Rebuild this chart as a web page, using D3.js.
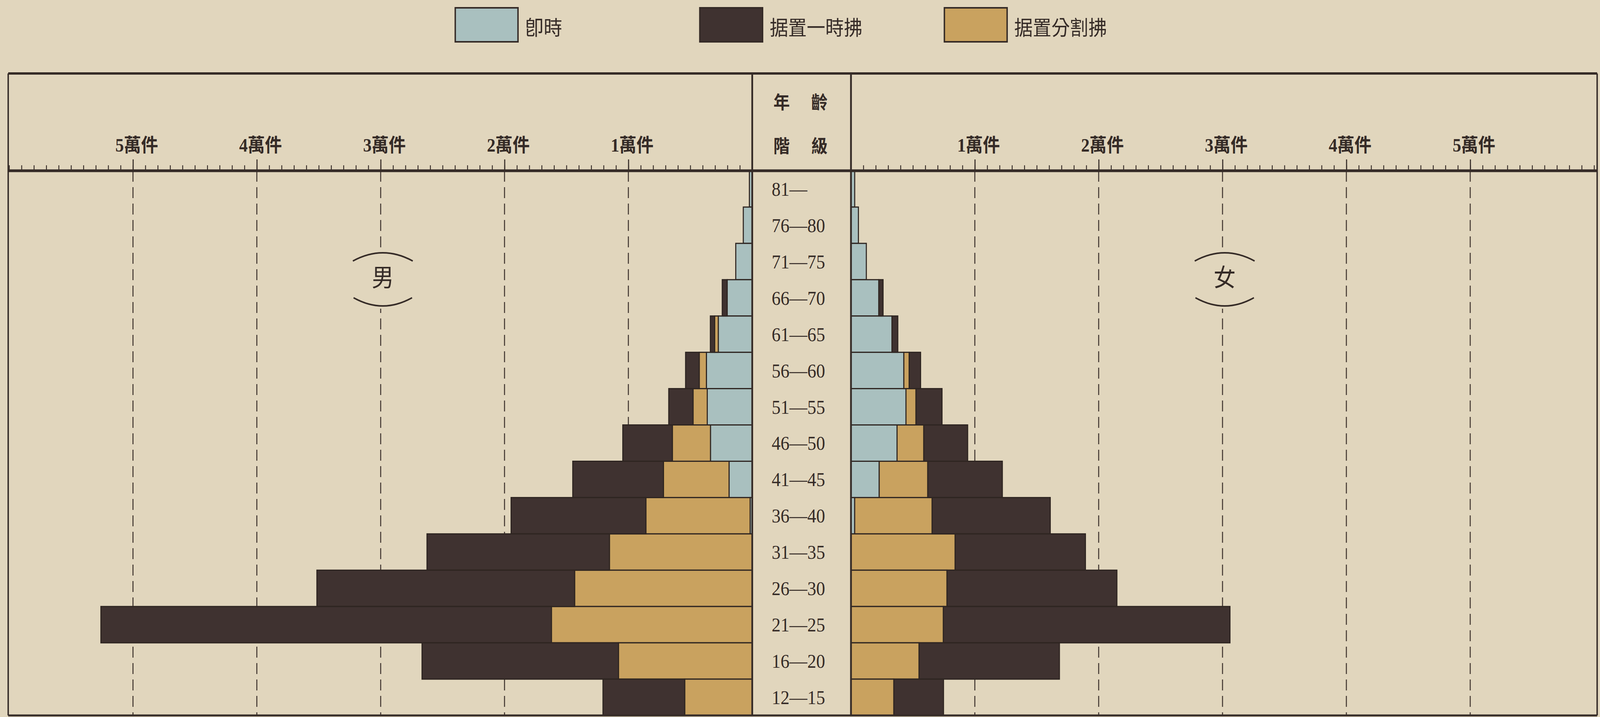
<!DOCTYPE html>
<html>
<head>
<meta charset="utf-8">
<script src="https://cdn.jsdelivr.net/npm/d3@7"></script>
<style>
  html, body { margin: 0; padding: 0; overflow: hidden; background: #e1d6bd; }
  svg { display: block; width: 100vw; height: 100vh; }
</style>
</head>
<body>
<svg id="chart"></svg>
<script>
// age classes, top to bottom
var ageGroups = ["81—", "76—80", "71—75", "66—70", "61—65", "56—60", "51—55",
                 "46—50", "41—45", "36—40", "31—35", "26—30", "21—25", "16—20", "12—15"]

// 男 (cases)
var maleSokuji   = [230, 720, 1330, 2020, 2740, 3700, 3630, 3370, 1870, 170, 0, 0, 0, 0, 0]
var maleBunkatsu = [0, 0, 0, 0, 290, 580, 1150, 3080, 5300, 8410, 11530, 14340, 16210, 10800, 5450]
var maleIchiji   = [0, 0, 0, 400, 350, 1100, 1960, 4000, 7320, 10890, 14730, 20810, 36380, 15860, 6600]

// 女 (cases)
var femaleSokuji   = [300, 600, 1240, 2250, 3310, 4270, 4440, 3720, 2280, 300, 0, 0, 0, 0, 0]
var femaleBunkatsu = [0, 0, 0, 0, 0, 430, 810, 2160, 3920, 6250, 8410, 7750, 7460, 5500, 3460]
var femaleIchiji   = [0, 0, 0, 340, 470, 920, 2100, 3540, 6020, 9540, 10520, 13720, 23140, 11330, 4010]

var legendLabels = ["卽時", "据置一時拂", "据置分割拂"]
var legendKeys = ["sokuji", "ichiji", "bunkatsu"]
var scaleTicks = [10000, 20000, 30000, 40000, 50000]
var sideLabels = ["男", "女"]

var dimensions = {
    width: 4488,
    height: 1835,
    top: 188,
    header: 437,
    bottom: 1831,
    left: 23,
    right: 4480,
    colLeft: 2110,
    colRight: 2387,
    unit: 347.4
}

var ink = "#352b27"
var paper = "#e1d6bd"
var colors = {sokuji: "#a9c0bf", bunkatsu: "#c9a25f", ichiji: "#3f3230"}
var keys = ["sokuji", "bunkatsu", "ichiji"]

// drawn in a fixed 4488 x 1835 box that is stretched to the window
var svg = d3.select("#chart")
    .attr("viewBox", `0 0 ${dimensions.width} ${dimensions.height}`)
    .attr("preserveAspectRatio", "none")

svg.append("rect")
    .attr("width", dimensions.width)
    .attr("height", dimensions.height)
    .attr("fill", paper)

var xLeft = d3.scaleLinear()
    .domain([0, 60000])
    .range([dimensions.colLeft, dimensions.colLeft - 6 * dimensions.unit])

var xRight = d3.scaleLinear()
    .domain([0, 60000])
    .range([dimensions.colRight, dimensions.colRight + 6 * dimensions.unit])

var yScale = d3.scaleBand()
    .domain(ageGroups)
    .range([dimensions.header, dimensions.bottom])
    .padding(0)

function buildRows(s, b, i) {
    return ageGroups.map((a, k) => ({age: a, sokuji: s[k], bunkatsu: b[k], ichiji: i[k]}))
}

var maleData = buildRows(maleSokuji, maleBunkatsu, maleIchiji)
var femaleData = buildRows(femaleSokuji, femaleBunkatsu, femaleIchiji)

// dashed grid lines
function drawGrid(xScale) {
    svg.append("g")
        .selectAll("line")
        .data(scaleTicks)
        .enter()
        .append("line")
        .attr("x1", d => xScale(d))
        .attr("x2", d => xScale(d))
        .attr("y1", dimensions.header)
        .attr("y2", dimensions.bottom)
        .attr("stroke", "#4a3f38")
        .attr("stroke-width", 3)
        .attr("stroke-dasharray", "28 14")
}
drawGrid(xLeft)
drawGrid(xRight)

// 男 / 女 marks sitting on the 3萬 line
sideLabels.forEach(function (label, i) {
    var cx = (i == 0 ? xLeft : xRight)(30000) + 6
    var g = svg.append("g")
    g.append("rect")
        .attr("x", cx - 20).attr("y", 640)
        .attr("width", 40).attr("height", 150)
        .attr("fill", paper)
    g.append("path")
        .attr("d", `M${cx - 84},668 Q${cx},626 ${cx + 84},668`)
        .attr("fill", "none").attr("stroke", ink).attr("stroke-width", 4)
    g.append("path")
        .attr("d", `M${cx - 82},762 Q${cx},804 ${cx + 82},762`)
        .attr("fill", "none").attr("stroke", ink).attr("stroke-width", 4)
    g.append("text")
        .attr("x", cx).attr("y", 706)
        .attr("text-anchor", "middle")
        .attr("dominant-baseline", "central")
        .attr("font-family", "'Noto Sans CJK TC'")
        .attr("font-size", 62)
        .attr("fill", ink)
        .text(label)
})

// stacked bars, growing outward from the centre column
function drawBars(data, xScale) {
    var stackedData = d3.stack().keys(keys)(data)
    svg.append("g")
        .selectAll("g")
        .data(stackedData)
        .enter()
        .append("g")
        .attr("fill", d => colors[d.key])
        .selectAll("rect")
        .data(d => d.filter(v => v[1] > v[0]))
        .enter()
        .append("rect")
        .attr("x", d => Math.min(xScale(d[0]), xScale(d[1])))
        .attr("width", d => Math.abs(xScale(d[1]) - xScale(d[0])))
        .attr("y", d => yScale(d.data.age))
        .attr("height", yScale.bandwidth())
        .attr("stroke", "#2e2521")
        .attr("stroke-width", 3)
}
drawBars(maleData, xLeft)
drawBars(femaleData, xRight)

// frame
var frame = svg.append("g").attr("stroke", ink).attr("fill", "none")
frame.append("line")
    .attr("x1", dimensions.left).attr("x2", dimensions.right)
    .attr("y1", dimensions.top).attr("y2", dimensions.top)
    .attr("stroke-width", 6)
frame.append("line")
    .attr("x1", dimensions.left).attr("x2", dimensions.right)
    .attr("y1", dimensions.header).attr("y2", dimensions.header)
    .attr("stroke-width", 7)
frame.append("line")
    .attr("x1", dimensions.left).attr("x2", dimensions.right)
    .attr("y1", dimensions.bottom).attr("y2", dimensions.bottom)
    .attr("stroke-width", 5)
;[dimensions.left, dimensions.right].forEach(function (x) {
    frame.append("line")
        .attr("x1", x).attr("x2", x)
        .attr("y1", dimensions.top).attr("y2", dimensions.bottom)
        .attr("stroke-width", 4)
})
;[dimensions.colLeft, dimensions.colRight].forEach(function (x) {
    frame.append("line")
        .attr("x1", x).attr("x2", x)
        .attr("y1", dimensions.top).attr("y2", dimensions.bottom)
        .attr("stroke-width", 5)
})

// scale along the header line
var minorTicks = d3.range(1000, 61000, 1000)
function drawAxis(xScale) {
    var minor = svg.append("g")
        .attr("transform", `translate(0,${dimensions.header - 3})`)
        .attr("color", ink)
        .call(d3.axisTop(xScale).tickValues(minorTicks).tickSize(11).tickFormat(""))
    minor.select(".domain").remove()
    minor.selectAll("line").attr("stroke-width", 2.5)

    var major = svg.append("g")
        .attr("transform", `translate(0,${dimensions.header - 3})`)
        .attr("color", ink)
        .call(d3.axisTop(xScale).tickValues(scaleTicks).tickSize(26).tickPadding(20)
            .tickFormat(d => (d / 10000) + "萬件"))
    major.select(".domain").remove()
    major.selectAll("line").attr("stroke-width", 3)
    major.selectAll("text")
        .attr("dx", 10)
        .attr("font-family", "'Liberation Serif', 'Noto Sans CJK TC'")
        .attr("font-weight", "bold")
        .attr("font-size", 48)
        .attr("fill", ink)
}
drawAxis(xLeft)
drawAxis(xRight)

// centre column heading
var colMid = (dimensions.colLeft + dimensions.colRight) / 2
;[["年", "齡", 258], ["階", "級", 370]].forEach(function (row) {
    [row[0], row[1]].forEach(function (ch, i) {
        svg.append("text")
            .attr("x", colMid + (i == 0 ? -56 : 50))
            .attr("y", row[2])
            .attr("text-anchor", "middle")
            .attr("dominant-baseline", "central")
            .attr("font-family", "'Noto Sans CJK TC'")
            .attr("font-weight", "bold")
            .attr("font-size", 46)
            .attr("fill", ink)
            .text(ch)
    })
})

// age labels
svg.append("g")
    .selectAll("text")
    .data(ageGroups)
    .enter()
    .append("text")
    .attr("x", colMid - 84)
    .attr("y", d => yScale(d) + yScale.bandwidth() / 2)
    .attr("dy", "0.35em")
    .attr("font-family", "'Liberation Serif'")
    .attr("font-size", 50)
    .attr("fill", ink)
    .text(d => d)

// legend
var legend = svg.append("g")
    .selectAll("g")
    .data(legendLabels)
    .enter()
    .append("g")
    .attr("transform", (d, i) => `translate(${1277 + i * 686},20)`)

legend.append("rect")
    .attr("width", 176)
    .attr("height", 87)
    .attr("fill", (d, i) => colors[legendKeys[i]])
    .attr("stroke", ink)
    .attr("stroke-width", 4)

legend.append("text")
    .attr("x", 196)
    .attr("y", 47)
    .attr("dominant-baseline", "central")
    .attr("font-family", "'Noto Sans CJK TC'")
    .attr("font-size", 52)
    .attr("fill", ink)
    .text(d => d)
</script>
</body>
</html>
